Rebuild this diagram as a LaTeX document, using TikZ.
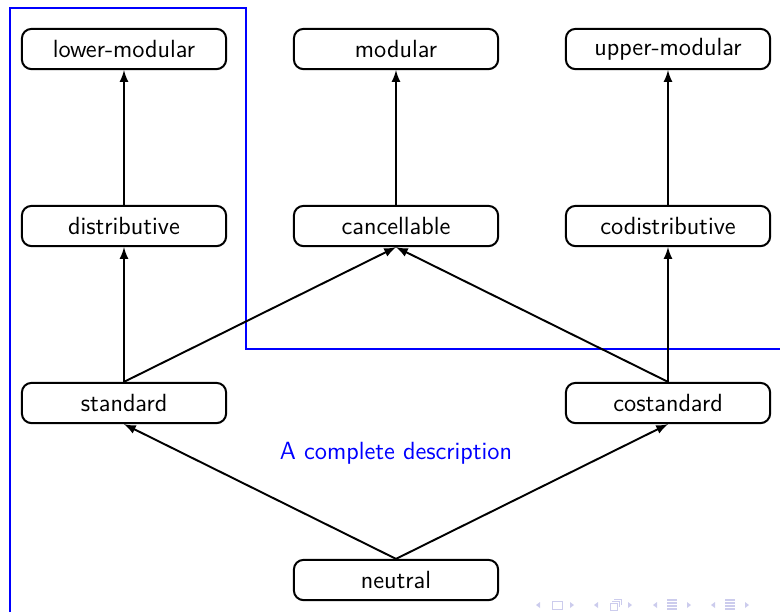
\documentclass[tikz,border=0pt]{standalone}
\usepackage{tikz}
\usetikzlibrary{arrows,positioning}
\definecolor{navfarbe}{rgb}{0.8,0.8,0.93}

\begin{document}
\begin{tikzpicture}[x=0.0164cm,y=-0.0164cm,
  verband/.style={draw,line width=0.95pt,rounded corners=4.5pt,minimum width=3.35cm,minimum height=0.66cm,font=\fontsize{11.6}{13}\sffamily},
  pfeil/.style={-latex,line width=0.9pt}]
%Rahmen fuer das Bild, Pixelmasse wie im Original
\useasboundingbox (0,0) rectangle (780,612);
%blaue Linie zuerst, damit die Pfeile darueber liegen
\draw[blue,line width=1.35pt] (10,612) -- (10,8) -- (246,8) -- (246,349) -- (780,349);
%obere Reihe
\node[verband] (lower) at (124,49) {lower-modular};
\node[verband] (modular) at (396,49) {modular};
\node[verband] (upper) at (668,49) {upper-modular};
%mittlere Reihe
\node[verband] (distributive) at (124,226) {distributive};
\node[verband] (cancellable) at (396,226) {cancellable};
\node[verband] (codistributive) at (668,226) {codistributive};
%untere Reihe
\node[verband] (standard) at (124,403) {standard};
\node[verband] (costandard) at (668,403) {costandard};
\node[verband] (neutral) at (396,580) {neutral};
\node[blue,font=\fontsize{11.6}{13}\sffamily] (beschreibung) at (396,453) {A complete description};
%Pfeile
\draw[pfeil] (distributive) -- (lower);
\draw[pfeil] (cancellable) -- (modular);
\draw[pfeil] (codistributive) -- (upper);
\draw[pfeil] (standard.north) -- (distributive.south);
\draw[pfeil] (standard.north) -- (cancellable.south);
\draw[pfeil] (costandard.north) -- (cancellable.south);
\draw[pfeil] (costandard.north) -- (codistributive.south);
\draw[pfeil] (neutral.north) -- (standard.south);
\draw[pfeil] (neutral.north) -- (costandard.south);
%Navigationssymbole unten rechts
\foreach \x in {538,596,655,713}{
  \fill[navfarbe] (\x-2,605) -- ++(4,-3) -- ++(0,6) -- cycle;
  \fill[navfarbe] (\x+36,605) -- ++(-4,-3) -- ++(0,6) -- cycle;
}
\draw[navfarbe,line width=0.4pt] (552,601) rectangle (562,609);
\draw[navfarbe,line width=0.4pt] (610,603) rectangle (617,610) (612,601) -- (619,601) -- (619,607) (614,599) -- (621,599) -- (621,605);
\foreach \x in {672,730}{
  \foreach \y in {600,603,606,609}
    \draw[navfarbe,line width=0.6pt] (\x-5,\y) -- (\x+5,\y);
}
\end{tikzpicture}
\end{document}
